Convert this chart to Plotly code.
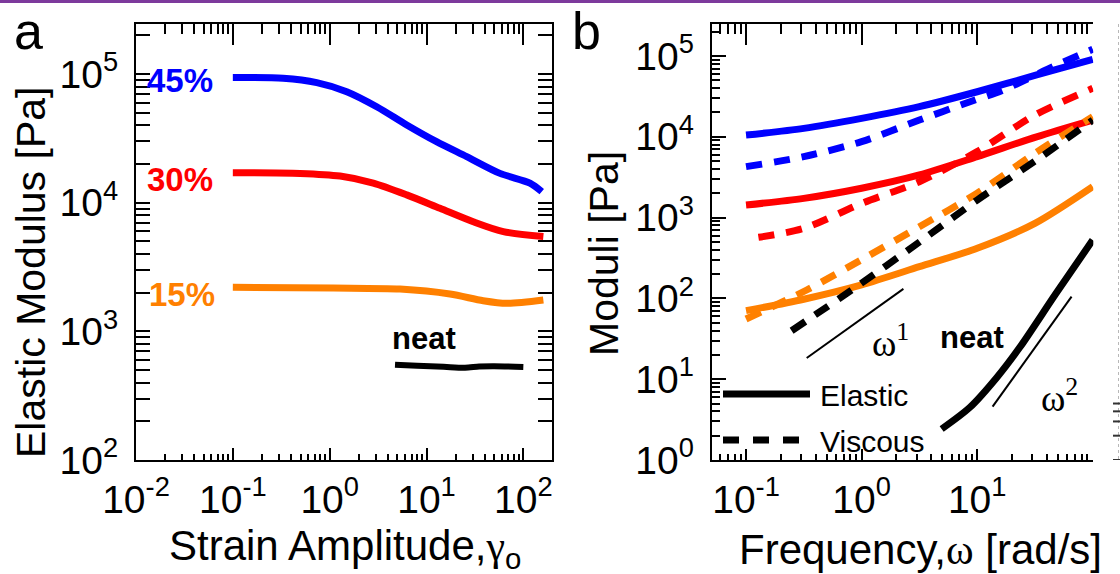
import plotly.graph_objects as go

# ---------------- Panel a: elastic modulus vs strain amplitude ----------------
strain_45 = [0.1, 0.331, 0.736, 1.50, 3.06, 6.25, 12.7, 26.0, 57.4, 117, 155]
modulus_45 = [94200, 92700, 85700, 72900, 55700, 40200, 29800, 22800, 16900, 14200, 12200]

strain_30 = [0.1, 0.495, 1.28, 2.82, 6.25, 13.8, 30.4, 62.1, 161]
modulus_30 = [17100, 16900, 16100, 14200, 11500, 9040, 7110, 5960, 5450]

strain_15 = [0.1, 1.09, 5.33, 17.5, 38.5, 67.3, 161]
modulus_15 = [2200, 2170, 2130, 1950, 1730, 1650, 1750]

strain_neat = [4.73, 8.0, 15.0, 25.0, 35.0, 50.0, 100]
modulus_neat = [550, 540, 530, 522, 533, 536, 528]

# ---------------- Panel b: moduli vs frequency ----------------
freq_45_el = [0.1, 0.316, 1, 3.16, 10, 32.7, 100]
elastic_45 = [10500, 12700, 16900, 23600, 36100, 58200, 91000]
freq_45_vi = [0.1, 0.316, 1, 3.16, 8.67, 16.8, 45.5, 100]
viscous_45 = [4270, 5680, 8710, 16100, 27200, 37900, 73800, 121000]

freq_30_el = [0.1, 0.316, 1, 3.16, 10, 32.7, 100]
elastic_30 = [1430, 1730, 2310, 3370, 5680, 10000, 16100]
freq_30_vi = [0.128, 0.316, 1, 3.16, 10, 31.6, 100]
viscous_30 = [570, 736, 1500, 2780, 6550, 18600, 39800]

freq_15_el = [0.1, 0.316, 1, 3.16, 10, 31.6, 100]
elastic_15 = [70.5, 97.7, 147, 247, 417, 849, 2420]
freq_15_vi = [0.1, 0.335, 1.11, 3.16, 10, 31.6, 100]
viscous_15 = [55.6, 127, 328, 771, 2000, 6250, 17700]

freq_neat_vi = [0.248, 0.847, 3.2, 10, 32.7, 100]
viscous_neat = [39.8, 131, 504, 1650, 5160, 16100]
freq_neat_el = [4.93, 8.67, 14.8, 23.4, 47.1, 100]
elastic_neat = [2.42, 4.49, 10.5, 24.8, 110, 528]

# power-law guide segments
slope1_x = [0.335, 2.30]
slope1_y = [18.3, 131]
slope2_x = [13.6, 65.6]
slope2_y = [4.57, 105]

BLUE, RED, ORANGE, BLACK = "#0000ff", "#ff0000", "#ff8000", "#000000"
SANS = "Liberation Sans, Arial, sans-serif"
SERIF = "Liberation Serif, Times New Roman, serif"

W, H = 1120, 574


def px(x):
    return x / W


def py(y):
    return 1 - y / H


fig = go.Figure()


def line(x, y, color, xa, ya, width=7, dash="solid", smooth=True):
    fig.add_trace(go.Scatter(
        x=x, y=y, mode="lines", xaxis=xa, yaxis=ya,
        line=dict(color=color, width=width, dash=dash,
                  shape="spline" if smooth else "linear", smoothing=0.8),
        showlegend=False, hoverinfo="skip"))


# panel a curves
line(strain_45, modulus_45, BLUE, "x", "y")
line(strain_30, modulus_30, RED, "x", "y")
line(strain_15, modulus_15, ORANGE, "x", "y")
line(strain_neat, modulus_neat, BLACK, "x", "y", width=6)

# panel b curves
DASH = "16px,12px"
line(freq_45_vi, viscous_45, BLUE, "x2", "y2", dash=DASH)
line(freq_45_el, elastic_45, BLUE, "x2", "y2")
line(freq_30_vi, viscous_30, RED, "x2", "y2", dash=DASH)
line(freq_30_el, elastic_30, RED, "x2", "y2")
line(freq_15_vi, viscous_15, ORANGE, "x2", "y2", dash=DASH)
line(freq_15_el, elastic_15, ORANGE, "x2", "y2")
line(freq_neat_vi, viscous_neat, BLACK, "x2", "y2", dash=DASH)
line(freq_neat_el, elastic_neat, BLACK, "x2", "y2")
line(slope1_x, slope1_y, BLACK, "x2", "y2", width=2, smooth=False)
line(slope2_x, slope2_y, BLACK, "x2", "y2", width=2, smooth=False)

# empty traces that keep the top frame axes alive
fig.add_trace(go.Scatter(x=[], y=[], xaxis="x3", yaxis="y", showlegend=False))
fig.add_trace(go.Scatter(x=[], y=[], xaxis="x4", yaxis="y2", showlegend=False))


def minor_vals(lo, hi):
    return [k * 10 ** e for e in range(lo, hi) for k in range(2, 10)]


def sup_labels(exps):
    return [f"10<sup>{e}</sup>" for e in exps]


tickfont = dict(family=SANS, size=39, color="black")

A_DOM_X = [px(136), px(551.7)]
B_DOM_X = [px(711.7), px(1093.3)]
DOM_Y = [py(460), py(24)]

A_XR = [-2, 2.293]
A_YR = [2, 5.389]
B_XR = [-1.297, 2.005]
B_YR = [0, 5.396]

common = dict(type="log", showgrid=False, zeroline=False, showline=True, automargin=False,
              linecolor="black", linewidth=2, ticks="inside", tickcolor="black",
              tickwidth=2, tickfont=tickfont)
xcommon = dict(common, ticklabelstandoff=4)
ycommon = dict(common, ticklabelstandoff=8)


def minor(vals, length):
    return dict(tickvals=vals, ticks="inside", ticklen=length, tickcolor="black", tickwidth=2)


fig.update_layout(
    template="none",
    width=W, height=H, margin=dict(l=0, r=0, t=0, b=0, pad=0),
    paper_bgcolor="white", plot_bgcolor="white", showlegend=False,
    xaxis=dict(xcommon, domain=A_DOM_X, range=A_XR, anchor="y", ticklen=12,
               tickvals=[1e-2, 1e-1, 1, 10, 100], ticktext=sup_labels([-2, -1, 0, 1, 2]),
               minor=minor(minor_vals(-2, 3), 6)),
    xaxis3=dict(xcommon, overlaying="x", side="top", range=A_XR, anchor="y",
                ticklen=21, tickvals=[1e-1, 1, 10, 100], showticklabels=False,
                minor=minor(minor_vals(-2, 3), 10)),
    yaxis=dict(ycommon, domain=DOM_Y, range=A_YR, anchor="x", ticklen=14,
               mirror="allticks",
               tickvals=[1e2, 1e3, 1e4, 1e5], ticktext=sup_labels([2, 3, 4, 5]),
               minor=minor(minor_vals(2, 6), 7)),
    xaxis2=dict(xcommon, domain=B_DOM_X, range=B_XR, anchor="y2", ticklen=11,
                tickvals=[1e-1, 1, 10, 100], ticktext=sup_labels([-1, 0, 1, 2]),
                minor=minor(minor_vals(-2, 3), 6)),
    xaxis4=dict(xcommon, overlaying="x2", side="top", range=B_XR, anchor="y2",
                ticklen=21, tickvals=[1e-1, 1, 10, 100], showticklabels=False,
                minor=minor(minor_vals(-2, 3), 10)),
    yaxis2=dict(ycommon, domain=DOM_Y, range=B_YR, anchor="x2", ticklen=14,
                tickvals=[1, 10, 1e2, 1e3, 1e4, 1e5], ticktext=sup_labels([0, 1, 2, 3, 4, 5]),
                minor=minor(minor_vals(0, 6), 8)),
)

ann = []


def text(x, y, s, size, xref="paper", yref="paper", xanchor="center", yanchor="middle",
         color="black", family=SANS, bold=False, angle=0, yshift=0):
    if bold:
        s = f"<b>{s}</b>"
    ann.append(dict(x=x, y=y, xref=xref, yref=yref, text=s, showarrow=False,
                    xanchor=xanchor, yanchor=yanchor, textangle=angle, yshift=yshift,
                    font=dict(family=family, size=size, color=color)))


# panel letters
text(px(28), 1.0, "a", 52, yanchor="top")
text(px(586), 1.0, "b", 52, yanchor="top")

# axis titles
text(px(31), py(273), "Elastic Modulus [Pa]", 41, angle=-90)
text(px(345), py(548),
     f"Strain Amplitude,<span style='font-family:{SERIF}'>γ</span><sub>o</sub>", 42)
text(px(604), py(254), "Moduli [Pa]", 41, angle=-90)
text(px(920), py(549),
     f"Frequency,<span style='font-family:{SERIF}'>ω</span> [rad/s]", 42)

# series labels, panel a (log-axis annotation positions are given in decades)
text(-1.183, 4.974, "45%", 33, "x", "y", xanchor="right", color=BLUE, bold=True, yshift=-3)
text(-1.183, 4.233, "30%", 33, "x", "y", xanchor="right", color=RED, bold=True, yshift=-7)
text(-1.160, 3.342, "15%", 33, "x", "y", xanchor="right", color=ORANGE, bold=True, yshift=-7)
text(0.979, 2.941, "neat", 31, "x", "y", bold=True)

# panel b annotations
text(0.959, 1.522, "neat", 31, "x2", "y2", bold=True)
text(0.246, 1.485, "ω<sup>1</sup>", 37, "x2", "y2", family=SERIF)
text(1.716, 0.804, "ω<sup>2</sup>", 37, "x2", "y2", family=SERIF)
text(px(818), py(395), "Elastic", 30, xanchor="left")
text(px(818), py(441), "Viscous", 30, xanchor="left")

fig.update_layout(annotations=ann)

shapes = [
    # legend samples
    dict(type="line", xref="paper", yref="paper", x0=px(723), x1=px(810), y0=py(394), y1=py(394),
         line=dict(color="black", width=7)),
    dict(type="line", xref="paper", yref="paper", x0=px(723), x1=px(805), y0=py(440), y1=py(440),
         line=dict(color="black", width=7, dash="16px,14px")),
    # purple strip along the top edge
    dict(type="rect", xref="paper", yref="paper", x0=0, x1=1, y0=py(3), y1=1,
         fillcolor="#7d3a9c", line=dict(width=0), layer="above"),
    # faint neighbouring axis at the right edge
    dict(type="line", xref="paper", yref="paper", x0=px(1118.5), x1=px(1118.5), y0=py(24), y1=py(460),
         line=dict(color="#b8b8b8", width=1, dash="dot")),
]
for e in [1, 2, 3, 4, 5]:
    shapes.append(dict(type="line", xref="paper", yref="y2", x0=px(1113), x1=1,
                       y0=e, y1=e, line=dict(color="#333333", width=2)))
fig.update_layout(shapes=shapes)

fig.write_html("out.html")
